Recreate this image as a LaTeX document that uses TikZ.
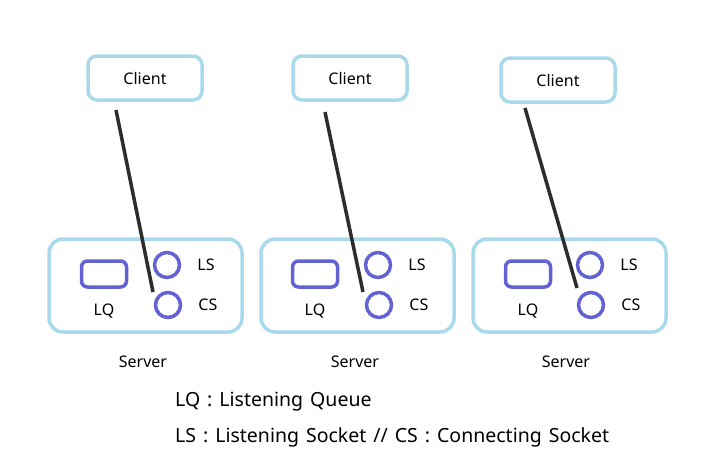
\documentclass[tikz,border=0pt]{standalone}
\usepackage{fontspec}
\setmainfont{Noto Sans}
\usetikzlibrary{positioning}
\definecolor{SkyBlau}{RGB}{168,218,236}
\definecolor{SockBlau}{RGB}{98,98,212}
\definecolor{LinkGrau}{RGB}{45,45,45}

\begin{document}
\begin{tikzpicture}[x=1pt, y=-1pt, font=\fontsize{16}{19}\selectfont,
    clientbox/.style={draw=SkyBlau, line width=3.5pt, rounded corners=9pt, minimum width=114pt, minimum height=44pt},
    serverbox/.style={draw=SkyBlau, line width=3.5pt, rounded corners=14pt, minimum width=193pt, minimum height=93pt},
    queuebox/.style={draw=SockBlau, line width=3.5pt, rounded corners=6pt, minimum width=45pt, minimum height=26pt},
    sockring/.style={shape=circle, draw=SockBlau, line width=3.5pt, minimum size=25pt, inner sep=0pt},
    tag/.style={inner sep=0pt},
    legend/.style={inner sep=0pt, anchor=base west, font=\fontsize{19.5}{23}\selectfont,
        execute at begin node={\spaceskip=7pt\relax}},
    link/.style={draw=LinkGrau, line width=3.5pt}]
    \useasboundingbox (0,0) rectangle (711,453);
    % first pair
    \node[clientbox] (c1) at (145,78) {Client};
    \node[serverbox] (s1) at (145.5,285.5) {};
    \node[queuebox]  (q1) at (104,274) {};
    \node[sockring]  (ls1) at (167,265) {};
    \node[sockring]  (cs1) at (168,305) {};
    \node[tag, right=16pt of ls1] {LS};
    \node[tag, right=16pt of cs1] {CS};
    \node[tag, below=15pt of q1] {LQ};
    \node[tag] at (143,362) {Server};
    \coordinate (t1) at (116,110);
    \coordinate (b1) at (153,292);
    \path[link] (t1) -- (b1);
    % second pair
    \node[clientbox] (c2) at (350,78) {Client};
    \node[serverbox] (s2) at (357.5,285.5) {};
    \node[queuebox]  (q2) at (315,274) {};
    \node[sockring]  (ls2) at (378,265) {};
    \node[sockring]  (cs2) at (379,305) {};
    \node[tag, right=16pt of ls2] {LS};
    \node[tag, right=16pt of cs2] {CS};
    \node[tag, below=15pt of q2] {LQ};
    \node[tag] at (355,362) {Server};
    \coordinate (t2) at (325,112);
    \coordinate (b2) at (363,292);
    \path[link] (t2) -- (b2);
    % third pair
    \node[clientbox] (c3) at (558,80) {Client};
    \node[serverbox] (s3) at (569.5,285.5) {};
    \node[queuebox]  (q3) at (528,274) {};
    \node[sockring]  (ls3) at (590,265) {};
    \node[sockring]  (cs3) at (591,305) {};
    \node[tag, right=16pt of ls3] {LS};
    \node[tag, right=16pt of cs3] {CS};
    \node[tag, below=15pt of q3] {LQ};
    \node[tag] at (566,362) {Server};
    \coordinate (t3) at (525,108);
    \coordinate (b3) at (577,288);
    \path[link] (t3) -- (b3);
    % legend
    \node[legend] (lq) at (175,406) {LQ : Listening Queue};
    \node[legend] (lsc) at (175,442) {LS : Listening Socket // CS : Connecting Socket};
\end{tikzpicture}
\end{document}
